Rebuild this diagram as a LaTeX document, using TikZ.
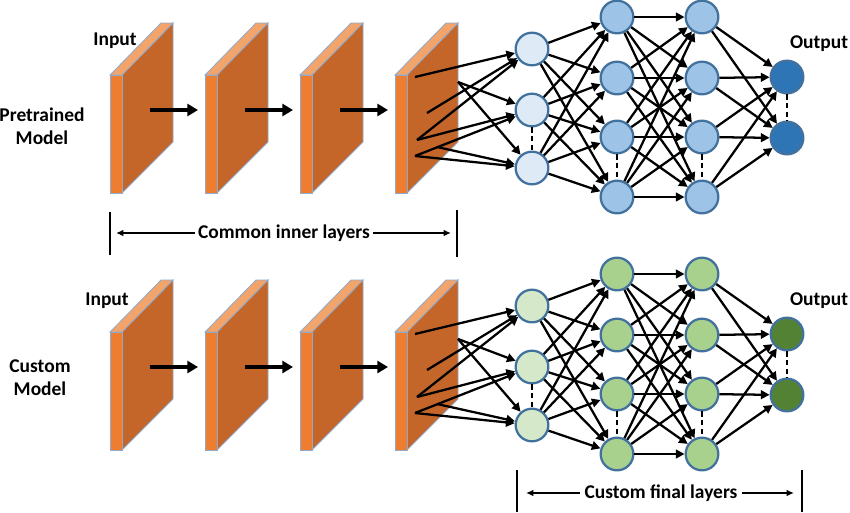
\documentclass[tikz,border=0pt]{standalone}
\usepackage{fontspec}
\setmainfont{Carlito}
\usetikzlibrary{arrows.meta}

\definecolor{slabfront}{HTML}{ED7D31}
\definecolor{slabtop}{HTML}{F3A46B}
\definecolor{slabside}{HTML}{C4652A}
\definecolor{slabedge}{HTML}{8FAACB}
\definecolor{ringblue}{HTML}{41719C}
\definecolor{blueA}{HTML}{DEEBF7}
\definecolor{blueB}{HTML}{9DC3E6}
\definecolor{blueC}{HTML}{2E75B6}
\definecolor{greenA}{HTML}{D5E8CA}
\definecolor{greenB}{HTML}{A9D18E}
\definecolor{greenC}{HTML}{548235}

\tikzset{
  slab/.pic={
    \path[fill=slabside,draw=slabedge,line width=0.6pt]
      (12,0) -- (63,-52) -- (63,67) -- (12,118) -- cycle;
    \path[fill=slabtop,draw=slabedge,line width=0.6pt]
      (0,0) -- (51,-52) -- (63,-52) -- (12,0) -- cycle;
    \path[fill=slabfront,draw=slabedge,line width=0.6pt]
      (0,0) rectangle (12,118);
    \coordinate (-out) at (40,35);
    \coordinate (-in) at (-7,35);
  },
  neuron/.style={circle,draw=ringblue,line width=1.7pt,minimum size=24.5pt,inner sep=0pt},
  link/.style={draw=black,line width=1.7pt,-{Triangle[length=6.5pt,width=6.5pt]}},
  bigarrow/.style={draw=black,line width=2.8pt,-{Triangle[length=8pt,width=9pt]}},
  gap/.style={draw=black,line width=1.8pt,dash pattern=on 4pt off 2.5pt},
  label/.style={font=\fontsize{14.6}{17.5}\selectfont\bfseries,align=center,inner sep=0pt},
  span/.style={draw=black,line width=1.2pt,-{Latex[length=5.5pt,width=5pt]}},
  bar/.style={draw=black,line width=1.6pt}
}

\begin{document}
\begin{tikzpicture}[x=0.75pt,y=-0.75pt]
\useasboundingbox (0,0) rectangle (850,512);

\foreach \row/\dy/\ca/\cb/\cc in {t/0/blueA/blueB/blueC, b/257/greenA/greenB/greenC}{
  % convolutional stack
  \pic (\row s1) at (110,75+\dy) {slab};
  \pic (\row s2) at (205,75+\dy) {slab};
  \pic (\row s3) at (300,75+\dy) {slab};
  \pic (\row s4) at (395,75+\dy) {slab};
  \draw[bigarrow] (\row s1-out) -- (\row s2-in);
  \draw[bigarrow] (\row s2-out) -- (\row s3-in);
  \draw[bigarrow] (\row s3-out) -- (\row s4-in);

  % dense layers
  \foreach \k/\y in {a/49,b/110,c/168}
    \node[neuron,fill=\ca] (\row1\k) at (532,\y+\dy) {};
  \foreach \k/\y in {a/17,b/78,c/137,d/197}{
    \node[neuron,fill=\cb] (\row2\k) at (617,\y+\dy) {};
    \node[neuron,fill=\cb] (\row3\k) at (702,\y+\dy) {};
  }
  \foreach \k/\y in {a/77,b/138}
    \node[neuron,fill=\cc] (\row o\k) at (787,\y+\dy) {};

  % feature points on the last map
  \coordinate (\row f1) at (415,77+\dy);
  \coordinate (\row f2) at (427,113+\dy);
  \coordinate (\row f3) at (417,140+\dy);
  \coordinate (\row f4) at (415,156+\dy);
  \coordinate (\row f5) at (458,82+\dy);
  \coordinate (\row f6) at (437,147+\dy);
  \draw[link] (\row f1) -- (\row1a);
  \draw[link] (\row f2) -- (\row1a);
  \draw[link] (\row f3) -- (\row1a);
  \draw[link] (\row f3) -- (\row1b);
  \draw[link] (\row f4) -- (\row1b);
  \draw[link] (\row f4) -- (\row1c);
  \draw[link] (\row f5) -- (\row1b);
  \draw[link] (\row f5) -- (\row1c);
  \draw[link] (\row f6) -- (\row1c);

  % full connections
  \foreach \i in {a,b,c}
    \foreach \j in {a,b,c,d}
      \draw[link] (\row1\i) -- (\row2\j);
  \foreach \i in {a,b,c,d}
    \foreach \j in {a,b,c,d}
      \draw[link] (\row2\i) -- (\row3\j);
  \foreach \i in {a,b,c,d}
    \foreach \j in {a,b}
      \draw[link] (\row3\i) -- (\row o\j);

  % elided units
  \draw[gap] (\row1b) -- (\row1c);
  \draw[gap] (\row2c) -- (\row2d);
  \draw[gap] (\row3c) -- (\row3d);
  \draw[gap] (\row oa) -- (\row ob);

  \node[label] (\row out) at (819,44+\dy) {Output};
}

\node[label] (tin) at (115,41) {Input};
\node[label] (bin) at (107,301) {Input};
\node[label] (pre) at (42,126) {Pretrained\\Model};
\node[label] (cus) at (40,378) {Custom\\Model};

% span of the shared layers
\coordinate (c1a) at (110,212); \coordinate (c1b) at (110,255);
\coordinate (c2a) at (457,210); \coordinate (c2b) at (457,257);
\coordinate (c1m) at (116,233); \coordinate (c2m) at (451,233);
\draw[bar] (c1a) -- (c1b);
\draw[bar] (c2a) -- (c2b);
\node[label] (common) at (284,233) {Common inner layers};
\draw[span] ([xshift=-2pt]common.west) -- (c1m);
\draw[span] ([xshift=2pt]common.east) -- (c2m);

% span of the new layers
\coordinate (d1a) at (517,470); \coordinate (d1b) at (517,512);
\coordinate (d2a) at (802,470); \coordinate (d2b) at (802,512);
\coordinate (d1m) at (526,493); \coordinate (d2m) at (794,493);
\draw[bar] (d1a) -- (d1b);
\draw[bar] (d2a) -- (d2b);
\node[label] (custom) at (661,493) {Custom final layers};
\draw[span] ([xshift=-3pt]custom.west) -- (d1m);
\draw[span] ([xshift=3pt]custom.east) -- (d2m);
\end{tikzpicture}
\end{document}
